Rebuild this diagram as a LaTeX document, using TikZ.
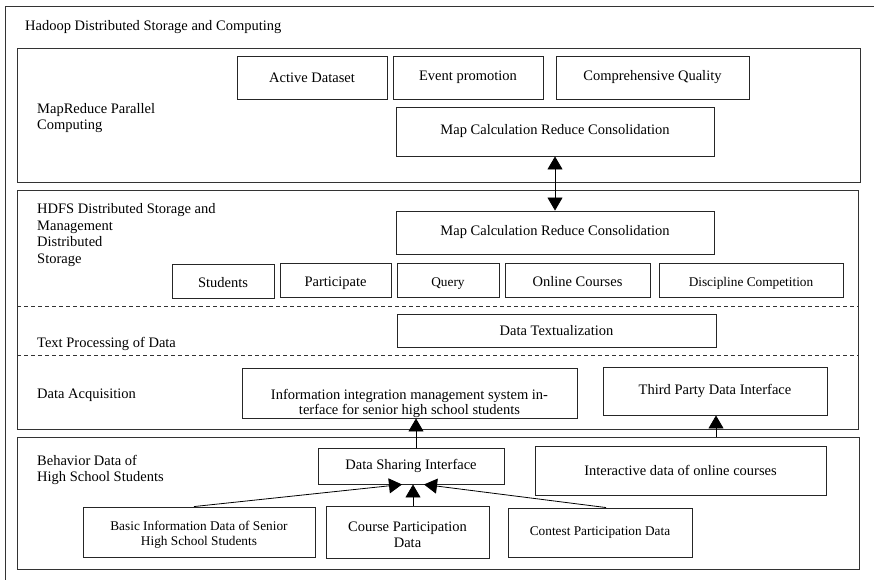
\documentclass[tikz,border=0pt]{standalone}
\usepackage{fontspec}
\setmainfont{Liberation Serif}
\usepackage{tikz}
\usetikzlibrary{arrows.meta}
\newcommand{\twolines}[2]{\begin{tabular}[t]{@{}c@{}}#1\\#2\end{tabular}}
\tikzstyle{box}=[fill=white, draw=black!85, line width=0.9pt, shape=rectangle, inner sep=0pt, align=center, font=\fontsize{14.5}{16.5}\selectfont]
\tikzstyle{small box}=[style=box, font=\fontsize{13.3}{15.5}\selectfont]
\tikzstyle{low box}=[style=box, text height=23pt, text depth=11pt]
\tikzstyle{low small box}=[style=low box, font=\fontsize{13.3}{15.5}\selectfont]
\tikzstyle{tier text}=[anchor=west, inner sep=0pt, align=left, font=\fontsize{14.5}{16.8}\selectfont]
\tikzstyle{frame}=[draw=black!80, line width=1pt]
\tikzstyle{flow}=[-{Triangle[width=15pt,length=13pt]}, line width=0.8pt]
\tikzstyle{both flow}=[{Triangle[width=15pt,length=13pt]}-{Triangle[width=15pt,length=13pt]}, line width=0.8pt]
\pgfdeclarelayer{nodelayer}
\pgfdeclarelayer{edgelayer}
\pgfsetlayers{main,nodelayer,edgelayer}

\begin{document}
\begin{tikzpicture}[x=1pt, y=-1pt]
	\useasboundingbox (0, 0) rectangle (874, 579);
	% frames
	\draw [style=frame] (5, 6) rectangle (890, 600);
	\draw [style=frame] (17, 48) rectangle (860, 182);
	\draw [style=frame] (17, 190) rectangle (858, 429);
	\draw [style=frame] (17, 437) rectangle (859, 569);
	\draw [draw=black!80, line width=0.9pt, dash pattern=on 4pt off 3pt] (17, 306) -- (858, 306);
	\draw [draw=black!80, line width=0.9pt, dash pattern=on 4pt off 3pt] (17, 355) -- (858, 355);
	\coordinate (tap) at (716, 437);
	\begin{pgfonlayer}{nodelayer}
		\node [style=tier text] (hadoop) at (25, 27) {Hadoop Distributed Storage and Computing};
		\node [style=tier text] (mrtext) at (37, 118) {MapReduce Parallel\\Computing};
		\node [style=tier text] (hdfstext) at (37, 235) {HDFS Distributed Storage and\\Management\\Distributed\\Storage};
		\node [style=tier text] (texttext) at (37, 344) {Text Processing of Data};
		\node [style=tier text] (acqtext) at (37, 395) {Data Acquisition};
		\node [style=tier text] (behtext) at (37, 470) {Behavior Data of\\High School Students};

		\node [style=box, minimum width=150, minimum height=43] (active) at (312, 77.5) {Active Dataset};
		\node [style=box, minimum width=150, minimum height=43] (event) at (468, 77.5) {Event promotion};
		\node [style=box, minimum width=193, minimum height=43] (quality) at (652.5, 77.5) {Comprehensive Quality};
		\node [style=box, minimum width=318, minimum height=49] (mapA) at (555, 131.5) {Map Calculation Reduce Consolidation};

		\node [style=box, minimum width=318, minimum height=43] (mapB) at (555, 232.5) {Map Calculation Reduce Consolidation};
		\node [style=low box, minimum width=102] (students) at (223, 281.5) {Students};
		\node [style=low box, minimum width=111] (participate) at (335.5, 280) {Participate};
		\node [style=low small box, minimum width=102] (query) at (448, 280.5) {Query};
		\node [style=low box, minimum width=145] (online) at (577.5, 280) {Online Courses};
		\node [style=low small box, minimum width=184] (discipline) at (751, 280.5) {Discipline Competition};

		\node [style=box, minimum width=319, minimum height=33] (textual) at (556.5, 330.5) {Data Textualization};

		\node [style=box, font=\fontsize{14.5}{15}\selectfont, minimum width=335, text height=31pt, text depth=19pt] (info) at (409.5, 393) {\twolines{Information integration management system in-}{terface for senior high school students}};
		\node [style=box, minimum width=224, minimum height=48] (third) at (715, 391) {Third Party Data Interface};

		\node [style=box, minimum width=186, minimum height=36] (share) at (411, 466) {Data Sharing Interface};
		\node [style=box, minimum width=291, minimum height=49] (inter) at (680.5, 470.5) {Interactive data of online courses};
		\node [style=small box, minimum width=232, text height=23pt, text depth=27pt] (basic) at (199, 532) {\twolines{Basic Information Data of Senior}{High School Students}};
		\node [style=box, font=\fontsize{14.5}{16}\selectfont, minimum width=163, text height=25pt, text depth=27pt] (course) at (407.5, 532) {\twolines{Course Participation}{Data}};
		\node [style=small box, minimum width=184, minimum height=49] (contest) at (600, 532.5) {Contest Participation Data};
	\end{pgfonlayer}
	\begin{pgfonlayer}{edgelayer}
		\draw [style=both flow] (mapA) -- (mapB);
		\draw [style=flow] ([xshift=5pt]share.north) -- ([xshift=5pt]share.north |- info.south);
		\draw [style=flow] (tap) -- (tap |- third.south);
		\draw [style=flow] ([xshift=-5pt]basic.north) -- ([xshift=-9pt]share.south);
		\draw [style=flow] ([xshift=5.5pt]course.north) -- ([xshift=2pt]share.south);
		\draw [style=flow] ([xshift=6pt]contest.north) -- ([xshift=13pt]share.south);
	\end{pgfonlayer}
\end{tikzpicture}
\end{document}
